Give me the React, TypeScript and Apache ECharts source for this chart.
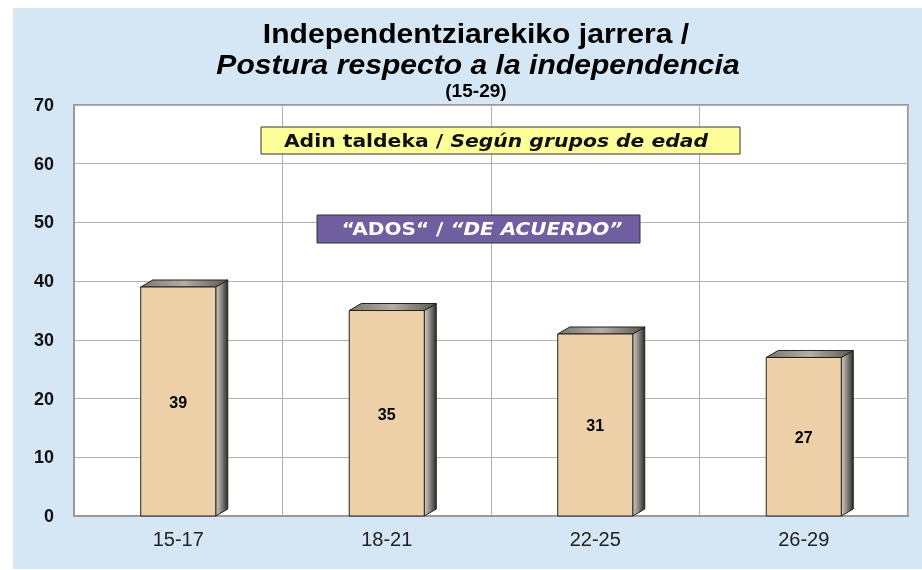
import React, { useEffect, useRef } from "react";
import * as echarts from "echarts";

const categories = ["15-17", "18-21", "22-25", "26-29"];
const values = [39, 35, 31, 27];
const yTicks = { min: 0, max: 70, interval: 10 };
const titleLines = ["Independentziarekiko jarrera /", "Postura respecto a la independencia", "(15-29)"];

export default function App() {
  const ref = useRef<HTMLDivElement>(null);
  useEffect(() => {
    if (!ref.current) return;
    const chart = echarts.init(ref.current, null, { renderer: "svg" });
    const option: any = {
      animation: false,
      backgroundColor: "transparent",
      graphic: [
        { type: "rect", z: -10, shape: { x: 13, y: 8, width: 909, height: 561 }, style: { fill: "#d5e7f5" } },
        { type: "text", x: 476, y: 20, scaleX: 1.115, style: { text: titleLines[0], x: 0, y: 0, align: "center", verticalAlign: "top", font: "bold 27px 'Liberation Sans', Arial", fill: "#000" } },
        { type: "text", x: 478, y: 51, scaleX: 1.115, style: { text: titleLines[1], x: 0, y: 0, align: "center", verticalAlign: "top", font: "italic bold 27px 'Liberation Sans', Arial", fill: "#000" } },
        { type: "text", x: 476, y: 82, scaleX: 1.06, style: { text: titleLines[2], x: 0, y: 0, align: "center", verticalAlign: "top", font: "bold 18px 'Liberation Sans', Arial", fill: "#000" } },
        { type: "rect", z: 10, shape: { x: 261, y: 127, width: 479, height: 27 }, style: { fill: "#ffff99", stroke: "#333", lineWidth: 1 } },
        {
          type: "text", z: 11, x: 496, y: 141, scaleX: 1.13,
          style: {
            text: "{a|Adin taldeka / }{b|Según grupos de edad}",
            x: 0, y: 0,
            align: "center", verticalAlign: "middle",
            rich: {
              a: { font: "bold 18px 'DejaVu Sans'", fill: "#111" },
              b: { font: "italic bold 18px 'DejaVu Sans'", fill: "#111" },
            },
          },
        },
        { type: "rect", z: 10, shape: { x: 317, y: 215, width: 323, height: 28 }, style: { fill: "#6f5fa0", stroke: "#333", lineWidth: 1 } },
        {
          type: "text", z: 11, x: 482, y: 229, scaleX: 1.18,
          style: {
            text: "{a|“ADOS“ / }{b|“DE ACUERDO”}",
            x: 0, y: 0,
            align: "center", verticalAlign: "middle",
            rich: {
              a: { font: "bold 17px 'DejaVu Sans'", fill: "#fff" },
              b: { font: "italic bold 17px 'DejaVu Sans'", fill: "#fff" },
            },
          },
        },
      ],
      grid: {
        left: 74, top: 105, right: 14, bottom: 54,
        show: true, backgroundColor: "#fff", borderColor: "#9a9a9a", borderWidth: 2,
      },
      xAxis: {
        type: "category",
        data: categories,
        axisLine: { show: true, lineStyle: { color: "#9a9a9a", width: 2 } },
        axisTick: { show: false },
        splitLine: { show: true, lineStyle: { color: "#b0b0b0", width: 1 } },
        axisLabel: { margin: 13, fontFamily: "'Liberation Sans', Arial", fontSize: 20, color: "#222" },
      },
      yAxis: {
        type: "value",
        min: yTicks.min, max: yTicks.max, interval: yTicks.interval,
        axisLine: { show: true, lineStyle: { color: "#9a9a9a", width: 2 } },
        axisTick: { show: false },
        splitLine: { show: true, lineStyle: { color: "#b0b0b0", width: 1 } },
        axisLabel: { margin: 20, fontFamily: "'Liberation Sans', Arial", fontWeight: "bold", fontSize: 18, color: "#111" },
      },
      series: [
        {
          type: "custom",
          data: values.map((v, i) => [i, v]),
          encode: { x: 0, y: 1 },
          z: 5,
          renderItem: (params: any, api: any) => {
            const idx = api.value(0);
            const val = api.value(1);
            const top = api.coord([idx, val]);
            const base = api.coord([idx, 0]);
            const band = api.size([1, 0])[0];
            const w = band * 0.36;
            const x0 = top[0] - w / 2;
            const x1 = top[0] + w / 2;
            const yT = top[1];
            const yB = base[1];
            const dx = 12, dy = 7;
            return {
              type: "group",
              children: [
                {
                  type: "polygon",
                  shape: { points: [[x1, yT], [x1 + dx, yT - dy], [x1 + dx, yB - dy], [x1, yB]] },
                  style: {
                    fill: new echarts.graphic.LinearGradient(0, 0, 1, 0, [
                      { offset: 0, color: "#d4cec4" },
                      { offset: 0.45, color: "#8e8a84" },
                      { offset: 1, color: "#2e2c2a" },
                    ]),
                    stroke: "#222", lineWidth: 1,
                  },
                },
                {
                  type: "polygon",
                  shape: { points: [[x0, yT], [x0 + dx, yT - dy], [x1 + dx, yT - dy], [x1, yT]] },
                  style: {
                    fill: new echarts.graphic.LinearGradient(0, 0, 1, 0, [
                      { offset: 0, color: "#7a766e" },
                      { offset: 0.5, color: "#b4aea4" },
                      { offset: 1, color: "#5a5650" },
                    ]),
                    stroke: "#222", lineWidth: 1,
                  },
                },
                {
                  type: "rect",
                  shape: { x: x0, y: yT, width: w, height: yB - yT },
                  style: { fill: "#edd0a8", stroke: "#222", lineWidth: 1 },
                },
                {
                  type: "text",
                  style: {
                    text: String(val),
                    x: top[0], y: (yT + yB) / 2 + 1,
                    align: "center", verticalAlign: "middle",
                    font: "bold 16px 'Liberation Sans', Arial",
                    fill: "#000",
                  },
                },
              ],
            };
          },
        },
      ],
    };
    chart.setOption(option);
    return () => chart.dispose();
  }, []);
  return <div ref={ref} style={{ position: "fixed", left: 0, top: 0, width: 922, height: 570 }} />;
}
